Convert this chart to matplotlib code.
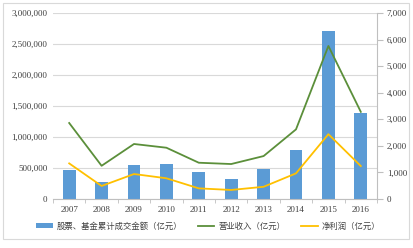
import matplotlib
matplotlib.use("Agg")
import matplotlib.pyplot as plt
from matplotlib.patches import Rectangle
from matplotlib.ticker import FuncFormatter

plt.rcParams['font.family'] = ['Liberation Serif', 'Noto Sans CJK SC', 'DejaVu Sans']

years = ['2007', '2008', '2009', '2010', '2011', '2012', '2013', '2014', '2015', '2016']
turnover = [465000, 280000, 548000, 562000, 435000, 320000, 480000, 790000, 2710000, 1390000]
revenue = [2860, 1250, 2070, 1930, 1365, 1316, 1616, 2620, 5760, 3280]
profit = [1340, 490, 940, 780, 400, 340, 460, 965, 2440, 1240]
labels = ['股票、基金累计成交金额（亿元）', '营业收入（亿元）', '净利润（亿元）']

fig = plt.figure(figsize=(4.13, 2.48), dpi=100)
ax = fig.add_axes([53/413, 1 - 199/248, 324/413, 186/248])
ax2 = ax.twinx()

x = list(range(len(years)))
bars = ax.bar(x, turnover, width=0.4, color='#5B9BD5', zorder=2, label=labels[0])
l1, = ax2.plot(x, revenue, color='#5B8F3A', lw=1.3, label=labels[1])
l2, = ax2.plot(x, profit, color='#FFC000', lw=1.3, label=labels[2])

ax.set_xlim(-0.5, len(years) - 0.5)
ax.set_ylim(0, 3000000)
ax.set_yticks(range(0, 3000001, 500000))
ax.yaxis.set_major_formatter(FuncFormatter(lambda v, p: f'{int(v):,}'))
ax2.set_ylim(0, 7000)
ax2.set_yticks(range(0, 7001, 1000))
ax2.yaxis.set_major_formatter(FuncFormatter(lambda v, p: f'{int(v):,}'))
ax.set_xticks(x)
ax.set_xticklabels(years)

ax.grid(axis='y', color='#D9D9D9', lw=0.8, zorder=0)
ax.set_axisbelow(True)
for a in (ax, ax2):
    for s in a.spines.values():
        s.set_visible(False)
ax.spines['bottom'].set_visible(True)
ax.spines['bottom'].set_color('#BFBFBF')
ax2.spines['right'].set_visible(True)
ax2.spines['right'].set_color('#BFBFBF')
ax.tick_params(axis='y', length=0, labelsize=6.5, colors='#404040', pad=4)
ax2.tick_params(axis='y', length=4, labelsize=6.5, colors='#404040', pad=3, color='#BFBFBF')
ax.tick_params(axis='x', length=0, labelsize=6.5, colors='#404040', pad=5)
ax.set_xticks([i + 0.5 for i in range(-1, len(years))], minor=True)
ax.tick_params(axis='x', which='minor', length=3, color='#BFBFBF')

fig.legend(handles=[bars, l1, l2], labels=labels, loc='center', bbox_to_anchor=(208/413, 1 - 226/248),
           ncol=3, frameon=False, handlelength=2.0, handleheight=0.5, columnspacing=1.9,
           handletextpad=0.45, labelcolor='#404040',
           prop={'family': ['Noto Sans CJK SC', 'DejaVu Sans'], 'size': 6})

fig.patches.append(Rectangle((3/413, 9/248), 406/413, 236/248, transform=fig.transFigure,
                             fill=False, edgecolor='#D9D9D9', lw=0.8))

fig.savefig('out.png', dpi=100)
